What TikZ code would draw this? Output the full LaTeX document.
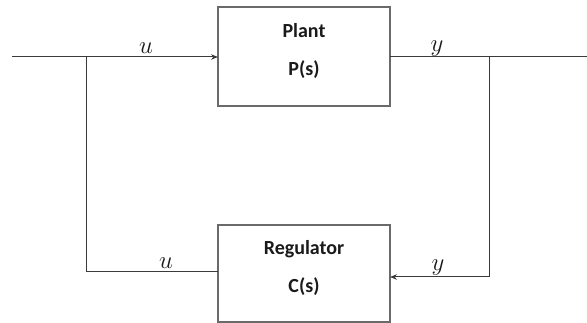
\documentclass[tikz,border=0pt]{standalone}
\usepackage{fontspec}
\newfontfamily\boxfont{Carlito}
\usetikzlibrary{arrows.meta}
\definecolor{linegray}{HTML}{3A3A3A}
\definecolor{boxgray}{HTML}{6A6A6A}
\definecolor{txt}{HTML}{1A1A1A}
\tikzset{
  blockbox/.style={draw=boxgray, line width=1.2pt, fill=white},
  wire/.style={draw=linegray, line width=1pt},
  tip/.style={-{Stealth[length=7pt,width=5.5pt]}},
  blocktext/.style={font=\boxfont\bfseries\fontsize{20}{22}\selectfont, text=txt},
  sig/.style={font=\fontsize{30}{32}\selectfont, text=txt, inner sep=0pt, anchor=base}
}
\begin{document}
\begin{tikzpicture}[x=1pt,y=-1pt]
\useasboundingbox (0,0) rectangle (587,323);
\path[blockbox] (218,7) rectangle (390,106);
\node[coordinate] (plantL) at (218,57) {};
\node[coordinate] (plantR) at (390,57) {};
\node[blocktext] (plantT) at (304,31) {Plant};
\node[blocktext] (plantP) at (304,70) {P(s)};
\path[blockbox] (218,225) rectangle (390,322);
\node[coordinate] (regL) at (218,272) {};
\node[coordinate] (regR) at (390,277) {};
\node[blocktext] (regT) at (304,249) {Regulator};
\node[blocktext] (regC) at (304,287) {C(s)};
\coordinate (in) at (12,57);
\coordinate (bl) at (86,57);
\coordinate (bll) at (86,272);
\coordinate (br) at (489,57);
\coordinate (brl) at (489,277);
\coordinate (out) at (587,57);
\draw[wire,tip] (in) -- (plantL);
\draw[wire] (plantR) -- (out);
\draw[wire] (bl) -- (bll) -- (regL);
\draw[wire,tip] (br) -- (brl) -- (regR);
\node[sig] (u1) at (146,54) {$u$};
\node[sig] (y1) at (437,52) {$y$};
\node[sig] (u2) at (166,269) {$u$};
\node[sig] (y2) at (438,271) {$y$};
\end{tikzpicture}
\end{document}
